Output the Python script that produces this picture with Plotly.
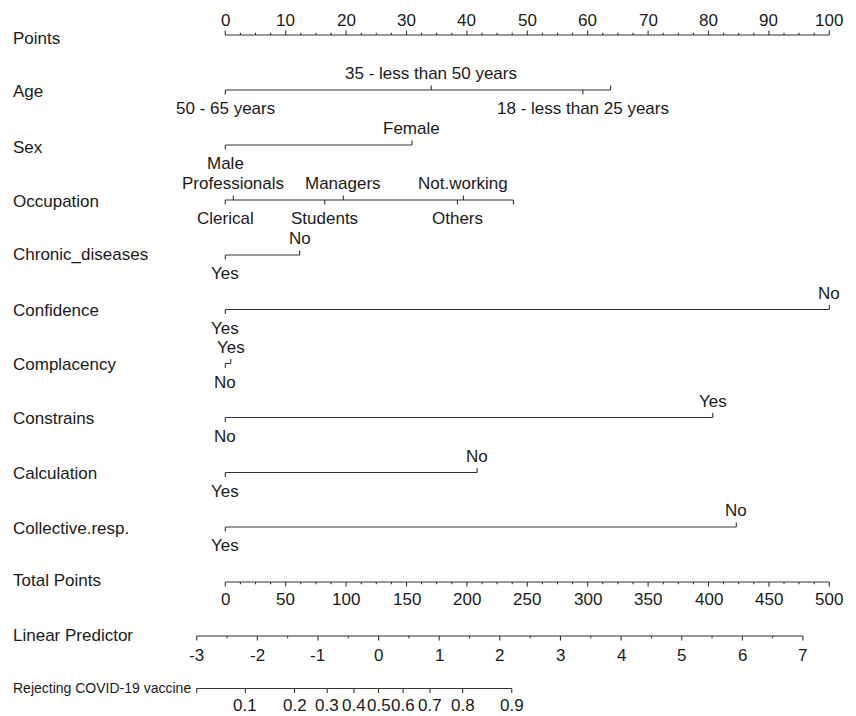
import math
import plotly.graph_objects as go

# ---------------- data ----------------
points_ticks = [0, 10, 20, 30, 40, 50, 60, 70, 80, 90, 100]

age_levels = ["50 - 65 years", "35 - less than 50 years", "18 - less than 25 years", ""]
age_points = [0, 34.1, 59.2, 63.8]

sex_levels = ["Male", "Female"]
sex_points = [0, 30.9]

occ_levels = ["Clerical", "Professionals", "Students", "Managers", "Others", "Not.working", ""]
occ_points = [0, 1.33, 16.46, 19.54, 38.43, 39.42, 47.7]

chronic_levels = ["Yes", "No"]
chronic_points = [0, 12.3]

confidence_levels = ["Yes", "No"]
confidence_points = [0, 100]

complacency_levels = ["No", "Yes"]
complacency_points = [0, 0.9]

constrains_levels = ["No", "Yes"]
constrains_points = [0, 80.7]

calculation_levels = ["Yes", "No"]
calculation_points = [0, 41.7]

collective_levels = ["Yes", "No"]
collective_points = [0, 84.6]

total_ticks = [0, 50, 100, 150, 200, 250, 300, 350, 400, 450, 500]
lp_ticks = [-3, -2, -1, 0, 1, 2, 3, 4, 5, 6, 7]
prob_ticks = [0.1, 0.2, 0.3, 0.4, 0.5, 0.6, 0.7, 0.8, 0.9]
prob_tick_labels = ["0.1", "0.2", "0.3", "0.4", "0.5", "0.6", "0.7", "0.8", "0.9"]

lp_at_zero_total = -2.528      # linear predictor at total points = 0
lp_per_total_point = 0.019924  # slope of linear predictor per total point

# ---------------- styling ----------------
FAMILY = "Liberation Sans, Arial, sans-serif"
FONT = dict(family=FAMILY, size=17, color="#1a1a1a")
LINE = dict(color="#333333", width=1.1)
X_MIN, X_MAX = -37.30, 104.42


def total_to_x(t):
    return t / 5.0


def lp_to_x(lp):
    return total_to_x((lp - lp_at_zero_total) / lp_per_total_point)


def prob_to_x(p):
    return lp_to_x(math.log(p / (1 - p)))


fig = go.Figure()
annotations = []


def add_lines(xs, ys):
    fig.add_trace(go.Scatter(x=xs, y=ys, mode="lines", line=LINE,
                             hoverinfo="skip", showlegend=False))


def add_text(x, y, text, anchor="center", xref="x", font=None):
    annotations.append(dict(x=x, y=y, xref=xref, yref="y", text=text,
                            showarrow=False, xanchor=anchor, yanchor="middle",
                            font=font or FONT))


def row_label(y, text, font=None):
    add_text(11 / 856, y, text, anchor="left", xref="paper", font=font)


def numeric_axis(y_line, positions, labels, minor_positions, label_y,
                 tick_dir, major_len=4.5, minor_len=2.3):
    allp = positions + minor_positions
    add_lines([min(allp), max(allp)], [y_line, y_line])
    tx, ty = [], []
    for p in positions:
        tx += [p, p, None]
        ty += [y_line, y_line + tick_dir * major_len, None]
    for p in minor_positions:
        tx += [p, p, None]
        ty += [y_line, y_line + tick_dir * minor_len, None]
    add_lines(tx, ty)
    for p, lab in zip(positions, labels):
        add_text(p, label_y, lab)


def categorical_axis(y_line, pts, levels, tick_len=4.5, above=16.5, below=18.5):
    add_lines([min(pts), max(pts)], [y_line, y_line])
    tx, ty = [], []
    for i, (p, lab) in enumerate(zip(pts, levels)):
        side = 1 if i % 2 == 0 else -1  # 1 = below, -1 = above
        tx += [p, p, None]
        ty += [y_line, y_line + side * tick_len, None]
        if lab:
            add_text(p, y_line + (below if side == 1 else -above), lab)
    add_lines(tx, ty)


# Points axis
row_label(38, "Points")
minor_pts = [v + k * 2.5 for v in points_ticks[:-1] for k in (1, 2, 3)]
numeric_axis(35, points_ticks, [str(v) for v in points_ticks], minor_pts, 20.5, -1)

# Categorical predictors
rows = [
    (91, "Age", 90, age_points, age_levels),
    (147, "Sex", 145, sex_points, sex_levels),
    (201, "Occupation", 200, occ_points, occ_levels),
    (254, "Chronic_diseases", 255, chronic_points, chronic_levels),
    (310, "Confidence", 309.5, confidence_points, confidence_levels),
    (364, "Complacency", 363.5, complacency_points, complacency_levels),
    (418, "Constrains", 417.5, constrains_points, constrains_levels),
    (473, "Calculation", 472.5, calculation_points, calculation_levels),
    (528, "Collective.resp.", 527, collective_points, collective_levels),
]
for ly, name, y_line, pts, levels in rows:
    row_label(ly, name)
    categorical_axis(y_line, pts, levels)

# Total points
row_label(580, "Total Points")
tot_pos = [total_to_x(t) for t in total_ticks]
tot_minor = [total_to_x(t + k * 12.5) for t in total_ticks[:-1] for k in (1, 2, 3)]
numeric_axis(582, tot_pos, [str(t) for t in total_ticks], tot_minor, 599.5, 1)

# Linear predictor
row_label(635, "Linear Predictor")
lp_pos = [lp_to_x(v) for v in lp_ticks]
lp_minor = [lp_to_x(v + 0.5) for v in lp_ticks[:-1]]
numeric_axis(636, lp_pos, [str(v) for v in lp_ticks], lp_minor, 655, 1)

# Probability
row_label(688, "Rejecting COVID-19 vaccine", font=dict(family=FAMILY, size=14, color="#1a1a1a"))
pr_pos = [prob_to_x(p) for p in prob_ticks]
start = lp_to_x(lp_ticks[0])
numeric_axis(688.5, pr_pos, prob_tick_labels, [start], 705.5, 1, minor_len=4.5)

fig.update_layout(
    width=856, height=716,
    margin=dict(l=0, r=0, t=0, b=0),
    paper_bgcolor="white", plot_bgcolor="white",
    showlegend=False,
    xaxis=dict(range=[X_MIN, X_MAX], visible=False, fixedrange=True),
    yaxis=dict(range=[716, 0], visible=False, fixedrange=True),
    annotations=annotations,
)

fig.write_html(
    "out.html",
    config={"displayModeBar": False},
    post_script="document.body.style.margin='0px';document.body.style.overflow='hidden';",
)
